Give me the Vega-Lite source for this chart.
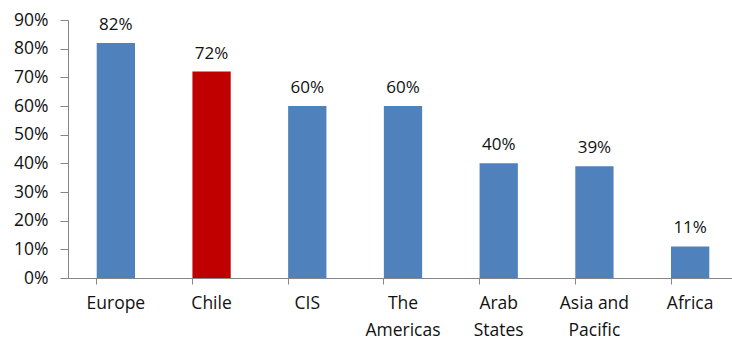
{
  "$schema": "https://vega.github.io/schema/vega-lite/v6.json",
  "autosize": {"type": "none"},
  "padding": {"left": 68, "top": 20, "right": 0, "bottom": 63},
  "width": 670,
  "height": 258,
  "background": "white",
  "config": {"view": {"stroke": null}, "font": "Open Sans"},
  "data": {"values": [
    {"region": "Europe", "share": 0.82},
    {"region": "Chile", "share": 0.72},
    {"region": "CIS", "share": 0.60},
    {"region": "The Americas", "share": 0.60},
    {"region": "Arab States", "share": 0.40},
    {"region": "Asia and Pacific", "share": 0.39},
    {"region": "Africa", "share": 0.11}
  ]},
  "encoding": {
    "x": {
      "field": "region", "type": "nominal", "sort": null,
      "scale": {"paddingInner": 0.6, "paddingOuter": 0.3},
      "axis": {
        "title": null, "labelAngle": 0, "bandPosition": 0,
        "domainColor": "#868686", "tickColor": "#868686", "tickSize": 6,
        "labelFont": "Open Sans", "labelFontSize": 17.5, "labelColor": "#111111",
        "labelPadding": 10, "labelLineHeight": 27, "labelBaseline": "top",
        "labelExpr": "datum.value == 'The Americas' ? ['The', 'Americas'] : datum.value == 'Arab States' ? ['Arab', 'States'] : datum.value == 'Asia and Pacific' ? ['Asia and', 'Pacific'] : datum.value"
      }
    },
    "y": {
      "field": "share", "type": "quantitative",
      "scale": {"domain": [0, 0.9], "nice": false},
      "axis": {
        "title": null, "format": ".0%", "values": [0, 0.1, 0.2, 0.3, 0.4, 0.5, 0.6, 0.7, 0.8, 0.9],
        "grid": false, "domainColor": "#868686", "tickColor": "#868686", "tickSize": 8,
        "labelFont": "Open Sans", "labelFontSize": 17.5, "labelColor": "#111111", "labelPadding": 12
      }
    }
  },
  "layer": [
    {
      "mark": {"type": "bar"},
      "encoding": {
        "color": {
          "condition": {"test": "datum.region == 'Chile'", "value": "#C00000"},
          "value": "#4F81BD"
        }
      }
    },
    {
      "mark": {"type": "text", "dy": -13, "baseline": "alphabetic", "fontSize": 17, "font": "Open Sans", "color": "#111111"},
      "encoding": {"text": {"field": "share", "type": "quantitative", "format": ".0%"}}
    }
  ]
}
